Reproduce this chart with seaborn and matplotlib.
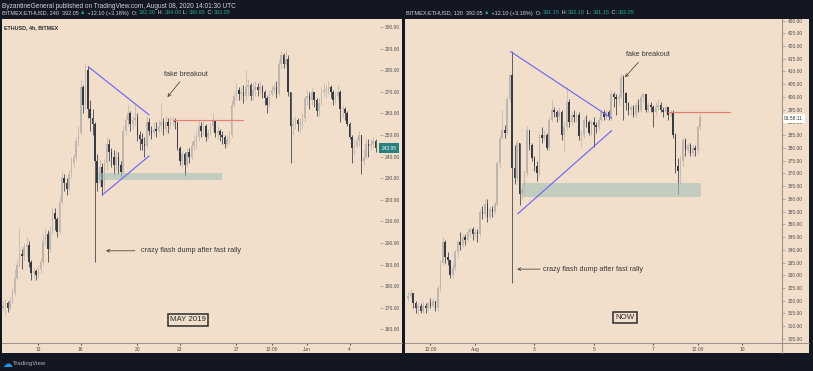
import numpy as np
import pandas as pd
import matplotlib
matplotlib.use('Agg')
import matplotlib.pyplot as plt
import matplotlib.dates as mdates
from matplotlib.patches import Rectangle
from matplotlib.lines import Line2D
import seaborn as sns

# ---------------- data ----------------
# May 2019, ETHUSD 4h candles (open = previous close)
may_start = '2019-05-10 12:00'
may_open0 = 170
may_close = [
    171, 172, 170, 173, 177, 184,
    190, 195, 194, 198, 199, 191,
    186, 187, 185, 188, 191, 201,
    204, 197, 205, 214, 211, 205,
    219, 230, 228, 225, 232, 237,
    240, 247, 251, 272, 264, 280,
    262, 258, 255, 238, 228, 235,
    226, 237, 246, 242, 240, 236,
    240, 236, 233, 252, 257, 260,
    255, 257, 258, 250, 248, 246,
    245, 256, 252, 251, 253, 252,
    254, 256, 253, 256, 254, 257,
    257, 256, 244, 238, 241, 236,
    242, 240, 245, 247, 249, 254,
    252, 254, 249, 251, 254, 257,
    251, 252, 250, 249, 246, 248,
    250, 264, 268, 271, 269, 270,
    268, 272, 273, 268, 271, 272,
    271, 272, 270, 267, 264, 269,
    271, 272, 269, 283, 287, 283,
    285, 270, 254, 255, 257, 255,
    255, 258, 267, 268, 266, 270,
    266, 261, 265, 270, 271, 271,
    272, 270, 266, 268, 270, 262,
    262, 260, 255, 249, 244, 245,
    247, 250, 238, 240, 246, 245,
    246, 247, 243.95]
may_high = [
    173, 174, 173, 175, 179, 188,
    192, 207, 197, 200, 203, 201,
    192, 189, 188, 190, 193, 204,
    207, 206, 208, 216, 216, 212,
    222, 233, 232, 230, 234, 240,
    241, 249, 254, 276, 273, 283,
    282, 266, 262, 256, 241, 239,
    237, 239, 249, 248, 244, 243,
    243, 242, 238, 254, 259, 264,
    261, 259, 265, 260, 252, 251,
    249, 259, 258, 254, 256, 256,
    257, 265, 258, 259, 258, 259,
    259, 258, 256, 245, 243, 242,
    244, 244, 247, 250, 252, 257,
    256, 257, 255, 253, 256, 260,
    257, 254, 253, 252, 250, 250,
    252, 266, 270, 274, 272, 272,
    273, 280, 276, 274, 274, 275,
    274, 275, 273, 271, 268, 271,
    273, 274, 275, 285, 289, 288,
    289.5, 287, 270, 258, 259, 258,
    258, 260, 268, 271, 270, 272,
    270, 267, 267, 272, 274, 273,
    275, 273, 271, 270, 273, 271,
    264, 263, 261, 256, 250, 248,
    249, 252, 250, 243, 248, 248,
    248, 249, 248]
may_low = [
    169, 166, 168, 169, 172, 176,
    183, 189, 188, 192, 194, 189,
    183, 184, 183, 184, 186, 190,
    199, 191, 196, 204, 206, 203,
    204, 218, 224, 222, 224, 230,
    235, 238, 245, 250, 260, 262,
    258, 252, 250, 191, 224, 226,
    222, 224, 234, 238, 235, 232,
    234, 232, 231, 232, 250, 254,
    252, 253, 254, 247, 243, 243,
    240, 244, 250, 248, 250, 249,
    251, 252, 250, 251, 251, 253,
    254, 253, 243, 236, 235, 231,
    235, 237, 239, 243, 244, 247,
    249, 250, 247, 248, 250, 252,
    249, 248, 247, 246, 244, 245,
    246, 249, 263, 266, 266, 266,
    265, 266, 268, 266, 266, 268,
    268, 269, 267, 264, 260, 263,
    268, 269, 267, 268, 281, 281,
    282, 268, 237, 250, 253, 252,
    251, 253, 256, 264, 262, 264,
    263, 259, 259, 264, 268, 267,
    269, 267, 264, 265, 266, 256,
    258, 257, 254, 248, 237, 241,
    244, 245, 232, 236, 239, 240,
    243, 244, 242]

# Aug 2020, ETHUSD 2h candles (open = previous close)
now_start = '2020-07-29 18:00'
now_open0 = 321
now_close = [
    322, 323, 319, 317, 318, 316, 318, 317, 319, 318, 320, 317,
    325, 335, 343, 337, 336, 330, 333, 339, 343, 342, 345, 344,
    347, 348, 346, 347, 346, 355, 354, 358, 353, 356, 355, 358,
    374, 384, 387, 386, 399, 408.5, 372, 368, 382, 362, 364, 370,
    387, 381, 376, 373, 370, 385, 384, 385, 380, 391, 395, 394,
    392, 394, 385, 388, 398, 390, 393, 392, 393, 384.5, 385, 391,
    390, 386, 390, 389, 388, 391, 394, 392, 394, 392, 401, 400,
    399, 400, 408, 401.5, 397.5, 395, 396, 393, 397, 395, 400, 401,
    395, 397, 396, 394, 396, 397, 395, 394, 396, 393, 394, 385,
    373, 371, 375, 383, 379, 381, 378, 380, 379, 388, 392.05]
now_high = [
    324, 324.5, 323, 320, 319, 319, 320, 319, 320, 321, 321, 320,
    326, 336, 345, 344, 339, 336, 335, 340, 344, 347, 346, 346,
    348, 349, 349, 348, 348, 356, 357, 360, 360, 357, 357, 359,
    375, 385, 395, 389, 400, 409, 418, 381, 383, 382, 366, 371,
    388.5, 387, 382, 377, 375, 386, 388, 387, 386, 392, 399, 396,
    395, 396, 395, 390, 404, 399, 394, 395, 394, 394, 387, 392,
    393, 391, 391, 392, 390, 392, 395, 395, 395, 395, 402.5, 402,
    401, 401, 409, 408.5, 402, 398, 397, 397, 398, 399, 401, 401.5,
    401, 398, 398, 397, 398, 399, 398, 396, 397, 396, 395, 395,
    386, 376, 377, 384, 384, 382, 382, 381, 381, 389, 393.5]
now_low = [
    320, 321, 317, 315, 314.5, 315, 315, 315, 316, 317, 317, 316,
    316, 324, 334, 335, 334, 329, 329, 332, 337, 340, 341, 342,
    343, 345, 344, 345, 343, 345, 352, 353, 351, 352, 353, 354,
    357, 372, 383, 384, 385, 398, 327, 366, 367, 357.5, 360, 361,
    369, 379, 375, 371, 367, 369, 382, 383, 379, 379, 390, 392,
    390, 391, 383, 378.5, 387, 388, 389, 390, 390, 383, 380.5, 384,
    388, 385, 385, 380.5, 386, 387, 390, 391, 391, 391, 391, 396,
    393, 397, 399, 391, 395, 393, 393, 392, 392, 394, 394, 398,
    394, 394, 394, 388.3, 393, 395, 394, 392, 393, 391, 392, 384,
    370, 362, 366, 373, 377, 378, 377, 377, 377, 378, 387]

# drawings (time, price)
may_upper_t = ['2019-05-16 12:45', '2019-05-20 20:00']
may_upper_p = [281.6, 259.3]
may_lower_t = ['2019-05-17 12:30', '2019-05-20 20:00']
may_lower_p = [222.2, 240.3]
may_zone_t = ['2019-05-17 05:00', '2019-05-26 00:00']
may_zone_p = [229.2, 232.5]
may_res_t = ['2019-05-22 13:00', '2019-05-27 12:00']
may_res_p = [257.0, 257.0]

now_upper_t = ['2020-08-02 04:50', '2020-08-05 14:30']
now_upper_p = [417.8, 391.6]
now_lower_t = ['2020-08-02 10:30', '2020-08-05 14:30']
now_lower_p = [354.1, 386.8]
now_zone_t = ['2020-08-02 13:45', '2020-08-08 14:40']
now_zone_p = [360.9, 366.1]
now_res_t = ['2020-08-07 12:10', '2020-08-09 14:00']
now_res_p = [394.2, 394.2]

may_ticks = ['2019-05-13 00:00', '2019-05-16 00:00', '2019-05-20 00:00',
             '2019-05-23 00:00', '2019-05-27 00:00', '2019-05-29 12:00',
             '2019-06-01 00:00', '2019-06-04 00:00']
may_ticklabels = ['13', '16', '20', '23', '27', '12:00', 'Jun', '4']
now_ticks = ['2020-07-30 12:00', '2020-08-01 00:00', '2020-08-03 00:00',
             '2020-08-05 00:00', '2020-08-07 00:00', '2020-08-08 12:00',
             '2020-08-10 00:00']
now_ticklabels = ['12:00', 'Aug', '3', '5', '7', '12:00', '10']

# ---------------- style ----------------
sns.set_style('white')
plt.rcParams['font.family'] = ['Liberation Sans', 'DejaVu Sans']

W, H = 813, 371
BG = '#131722'
PANEL = '#f2dfcb'
UP = '#bdb6ae'
DOWN = '#363a45'
BLUE = '#6e68ee'
RED = '#ef7b70'
ZONE = '#a4c1b7'
INK = '#3a3a3a'
AXC = '#9c948c'
LAB = '#4d4d4d'


def fx(x):
    return x / W


def fy(y):
    return 1 - y / H


def tnum(vals):
    return mdates.date2num(pd.to_datetime(vals, format='mixed'))


fig = plt.figure(figsize=(W / 100, H / 100), dpi=100, facecolor=BG)

for x0, x1 in [(2, 402), (405, 809)]:
    fig.add_artist(Rectangle((fx(x0), fy(353)), (x1 - x0) / W, (353 - 19) / H,
                             transform=fig.transFigure, facecolor=PANEL,
                             edgecolor='none', zorder=-2))
    fig.add_artist(Line2D([fx(x0), fx(x1)], [fy(343), fy(343)],
                          transform=fig.transFigure, color=AXC, lw=0.8))
fig.add_artist(Line2D([fx(782), fx(782)], [fy(19), fy(353)],
                      transform=fig.transFigure, color=AXC, lw=0.8))

ax1 = fig.add_axes([fx(2), fy(343), 378 / W, 323 / H])
ax2 = fig.add_axes([fx(405), fy(343), 377 / W, 323 / H])


def candles(ax, start, freq, open0, close, high, low, width):
    t = mdates.date2num(pd.date_range(start, periods=len(close), freq=freq))
    c = np.array(close, float)
    o = np.concatenate([[open0], c[:-1]])
    colors = np.where(c >= o, UP, DOWN)
    ax.vlines(t, low, high, colors=colors, lw=0.55, zorder=2)
    body = c - o
    body = np.where(np.abs(body) < 0.35, 0.35, body)
    ax.bar(t, body, bottom=o, width=width, color=colors, linewidth=0, zorder=2)


candles(ax1, may_start, '4h', may_open0, may_close, may_high, may_low, 0.11)
candles(ax2, now_start, '2h', now_open0, now_close, now_high, now_low, 0.055)


def drawings(ax, upper, lower, zone, res):
    for (ts, ps), col in [(upper, BLUE), (lower, BLUE), (res, RED)]:
        sns.lineplot(x=tnum(ts), y=ps, ax=ax, color=col, linewidth=0.85, zorder=4)
    zt, zp = tnum(zone[0]), zone[1]
    ax.add_patch(Rectangle((zt[0], zp[0]), zt[1] - zt[0], zp[1] - zp[0],
                           facecolor=ZONE, alpha=0.6, edgecolor='none', zorder=3))


drawings(ax1, (may_upper_t, may_upper_p), (may_lower_t, may_lower_p),
         (may_zone_t, may_zone_p), (may_res_t, may_res_p))
drawings(ax2, (now_upper_t, now_upper_p), (now_lower_t, now_lower_p),
         (now_zone_t, now_zone_p), (now_res_t, now_res_p))

arrow = dict(arrowstyle='->', color='#4a4a4a', lw=0.6, shrinkA=0, shrinkB=0,
             mutation_scale=5)


def tx(s):
    return tnum([s])[0]


def notes(ax, fb_xy, fb_tail, fb_head, fd_xy, fd_tail, fd_head, box_xy, box_txt):
    ax.text(tx(fb_xy[0]), fb_xy[1], 'fake breakout', fontsize=5.2,
            color=INK, ha='center', va='center')
    ax.annotate('', xy=(tx(fb_head[0]), fb_head[1]),
                xytext=(tx(fb_tail[0]), fb_tail[1]), arrowprops=arrow)
    ax.text(tx(fd_xy[0]), fd_xy[1], 'crazy flash dump after fast rally',
            fontsize=5.2, color=INK, ha='left', va='center')
    ax.annotate('', xy=(tx(fd_head[0]), fd_head[1]),
                xytext=(tx(fd_tail[0]), fd_tail[1]), arrowprops=arrow)
    ax.text(tx(box_xy[0]), box_xy[1], box_txt, fontsize=5.7, color='#2b2b2b',
            ha='center', va='center',
            bbox=dict(boxstyle='square,pad=0.3', fc='none', ec='#2b2b2b', lw=1.1))


notes(ax1, ('2019-05-23 10:30', 278.1), ('2019-05-23 00:15', 274.7),
      ('2019-05-22 03:00', 267.5), ('2019-05-20 06:15', 196.4),
      ('2019-05-19 20:00', 196.4), ('2019-05-17 18:40', 196.4),
      ('2019-05-23 14:00', 164.4), 'MAY 2019')
notes(ax2, ('2020-08-06 19:25', 416.7), ('2020-08-06 12:00', 413.6),
      ('2020-08-06 01:10', 407.7), ('2020-08-03 07:00', 332.4),
      ('2020-08-03 04:30', 332.4), ('2020-08-02 10:00', 332.4),
      ('2020-08-06 01:10', 313.4), 'NOW')

# axes
for ax in (ax1, ax2):
    ax.set_facecolor('none')
    for s in ax.spines.values():
        s.set_visible(False)
    ax.yaxis.tick_right()
    ax.tick_params(axis='y', right=True, left=False, length=2, width=0.5,
                   color=AXC, labelsize=3.5, labelcolor=LAB, pad=1.5)
    ax.tick_params(axis='x', bottom=True, length=1.5, width=0.8, color='#555555',
                   labelsize=3.5, labelcolor=LAB, pad=1.5)

ax1.set_xlim(tnum(['2019-05-10 10:26', '2019-06-06 03:35']))
ax1.set_ylim(153.7, 303.24)
ax1.set_yticks(np.arange(160, 301, 10))
ax1.set_yticklabels([f'{v:.2f}' for v in np.arange(160, 301, 10)])
ax1.set_xticks(tnum(may_ticks))
ax1.set_xticklabels(may_ticklabels)

ax2.set_xlim(tnum(['2020-07-29 15:26', '2020-08-11 08:05']))
ax2.set_ylim(303.4, 430.2)
ax2.set_yticks(np.arange(305, 431, 5))
ax2.set_yticklabels([f'{v:.2f}' for v in np.arange(305, 431, 5)])
ax2.set_xticks(tnum(now_ticks))
ax2.set_xticklabels(now_ticklabels)
ax2.tick_params(axis='y', pad=2)

# last price tags
ax1.annotate('243.95', xy=(1, may_close[-1]), xycoords=ax1.get_yaxis_transform(),
             xytext=(1.2, 0), textcoords='offset points', fontsize=3.5,
             color='white', va='center', ha='left',
             bbox=dict(boxstyle='square,pad=0.45', fc='#25807e', ec='none'))
ax2.annotate('01:58:11', xy=(1, now_close[-1]), xycoords=ax2.get_yaxis_transform(),
             xytext=(1.6, -1), textcoords='offset points', fontsize=3.5,
             color='#333333', va='center', ha='left',
             bbox=dict(boxstyle='square,pad=0.35', fc='white', ec='none'))

ax1.text(0.006, 0.977, 'ETHUSD, 4h, BITMEX', transform=ax1.transAxes,
         fontsize=3.8, weight='bold', color='#2a2a2a', va='center', ha='left')

# header
fig.text(fx(2), fy(6), 'ByzantineGeneral published on TradingView.com, '
         'August 08, 2020 14:01:30 UTC', fontsize=4.7, color='#d1d4dc', va='center')


def header(x, parts):
    t = fig.text(fx(x), fy(13), parts[0][0], fontsize=4.0, color=parts[0][1],
                 va='center')
    for s, c in parts[1:]:
        t = ax1.annotate(s, xy=(1, 0.5), xycoords=t, va='center', ha='left',
                         fontsize=4.0, color=c, annotation_clip=False)


GR, TE = '#d1d4dc', '#26a69a'
header(2, [('BITMEX:ETHUSD, 240  392.05 ', GR), ('\u25b2', TE),
           (' +12.10 (+3.18%)  O: ', GR), ('392.30', TE), (' H: ', GR),
           ('394.00', TE), (' L: ', GR), ('390.65', TE), (' C: ', GR), ('392.05', TE)])
header(406, [('BITMEX:ETHUSD, 120  392.05 ', GR), ('\u25b2', TE),
             (' +12.10 (+3.18%)  O: ', GR), ('391.15', TE), (' H: ', GR),
             ('392.10', TE), (' L: ', GR), ('391.15', TE), (' C: ', GR), ('392.05', TE)])

# footer
fig.text(fx(2), fy(363.5), '\u2601', fontsize=7, color='#2196f3', va='center',
         family=['DejaVu Sans'])
fig.text(fx(13), fy(363.5), 'TradingView', fontsize=4.3, color='#b2b5be', va='center')

fig.savefig('out.png', dpi=100, facecolor=BG)
